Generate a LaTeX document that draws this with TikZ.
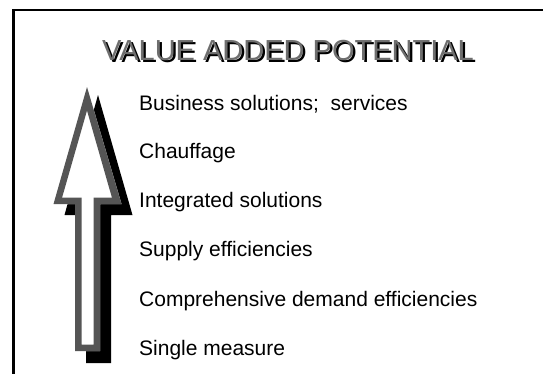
\documentclass[tikz,border=0pt]{standalone}
\usepackage{fontspec}
\setmainfont{Liberation Sans}
\definecolor{arrowgray}{HTML}{555555}
\definecolor{titlegray}{HTML}{6E6E6E}
\begin{document}
\begin{tikzpicture}[x=1pt,y=-1pt,
  itemtext/.style={anchor=base west,inner sep=0pt,font=\fontsize{21}{25}\selectfont},
  titletext/.style={anchor=base,inner sep=0pt,font=\fontsize{29}{34}\selectfont}]
\useasboundingbox (0,0) rectangle (543,373);
\clip (0,0) rectangle (543,373);
\fill[white] (0,0) rectangle (543,373);
% frame
\draw[line width=2.5pt] (13.5,10) rectangle (600,420);
% title with shadow
\node[titletext,text=black] (titleshadow) at (290.3,62) {VALUE ADDED POTENTIAL};
\node[titletext,text=titlegray] (title) at (288,60) {VALUE ADDED POTENTIAL};
% arrow shadow (solid)
\fill[black] (98,95) -- (64.5,215) -- (86,215) -- (86,363) -- (111,363) -- (111,215) -- (132.5,215) -- cycle;
% arrow outline
\fill[white] (87,87) -- (53.5,204) -- (75,204) -- (75,351) -- (100,351) -- (100,204) -- (121.5,204) -- cycle;
\fill[arrowgray,even odd rule]
  (87,87) -- (53.5,204) -- (75,204) -- (75,351) -- (100,351) -- (100,204) -- (121.5,204) -- cycle
  (87,110.6) -- (62.1,197.5) -- (81.5,197.5) -- (81.5,344.5) -- (93.5,344.5) -- (93.5,197.5) -- (111.9,197.5) -- cycle;
% items
\node[itemtext] (i1) at (139,110) {Business solutions;\ \ services};
\node[itemtext] (i2) at (139,158) {Chauffage};
\node[itemtext] (i3) at (139,207) {Integrated solutions};
\node[itemtext] (i4) at (139,256) {Supply efficiencies};
\node[itemtext] (i5) at (139,306) {Comprehensive demand efficiencies};
\node[itemtext] (i6) at (139,355) {Single measure};
\end{tikzpicture}
\end{document}
